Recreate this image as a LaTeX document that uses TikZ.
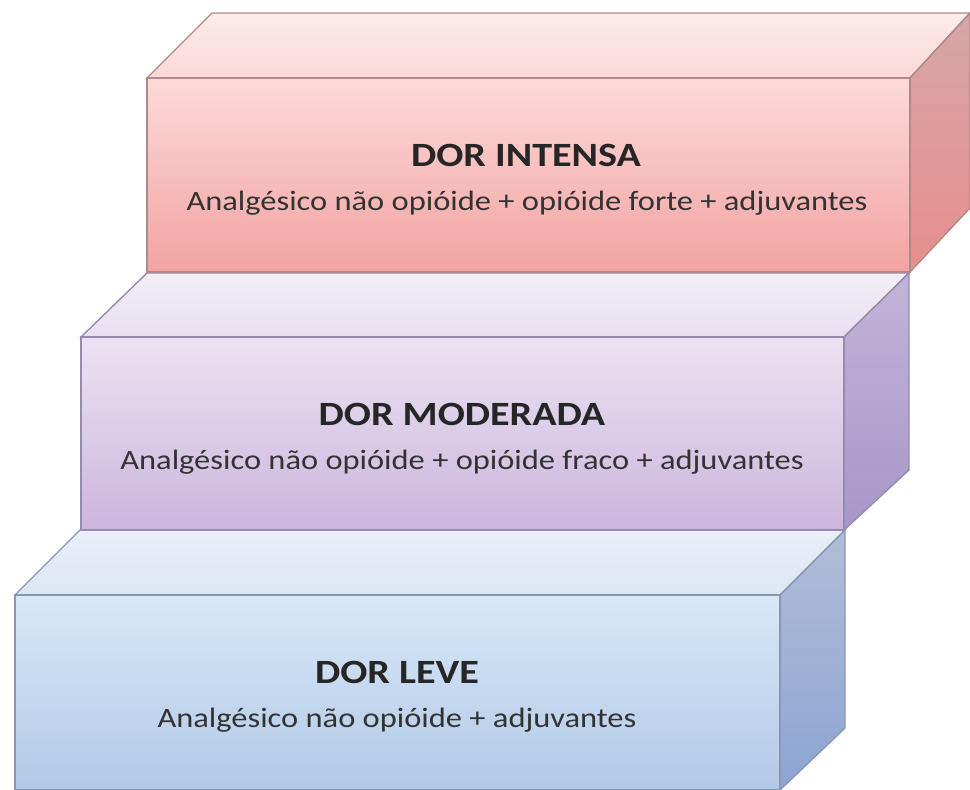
\documentclass[tikz,border=0pt]{standalone}
\usepackage{fontspec}
\setmainfont{Carlito}
\usepackage{tikz}
\usetikzlibrary{calc}

\definecolor{pinkfrontA}{HTML}{FCDAD9}
\definecolor{pinkfrontB}{HTML}{F2A3A2}
\definecolor{pinktopA}{HTML}{FDEBEA}
\definecolor{pinktopB}{HTML}{FBD8D8}
\definecolor{pinksideA}{HTML}{D6A6A6}
\definecolor{pinksideB}{HTML}{E88E8E}
\definecolor{pinkedge}{HTML}{B08888}
\definecolor{lilacfrontA}{HTML}{EBE3F2}
\definecolor{lilacfrontB}{HTML}{CBB5DD}
\definecolor{lilactopA}{HTML}{F2EDF6}
\definecolor{lilactopB}{HTML}{E8E0F0}
\definecolor{lilacsideA}{HTML}{C2B4D8}
\definecolor{lilacsideB}{HTML}{A896C8}
\definecolor{lilacedge}{HTML}{968AAE}
\definecolor{bluefrontA}{HTML}{D8E8F8}
\definecolor{bluefrontB}{HTML}{B2C8E6}
\definecolor{bluetopA}{HTML}{EAEFF8}
\definecolor{bluetopB}{HTML}{DDE6F4}
\definecolor{bluesideA}{HTML}{B2BDD6}
\definecolor{bluesideB}{HTML}{8CA4D4}
\definecolor{blueedge}{HTML}{8898B4}

\begin{document}
\begin{tikzpicture}[x=1pt, y=-1pt,
	title/.style={font=\bfseries\fontsize{34}{36}\selectfont, text=black!85, xscale=1.18, transform shape},
	subtitle/.style={font=\fontsize{28}{30}\selectfont, text=black!80, xscale=1.16, transform shape}]
	\useasboundingbox				(0,0) rectangle (970,790);
	% dor leve
	\shade[top color=bluetopA, bottom color=bluetopB, draw=blueedge, line width=1.4pt]		(15,595) -- (80,530) -- (845,530) -- (780,595) -- cycle;
	\shade[top color=bluesideA, bottom color=bluesideB, draw=blueedge, line width=1.4pt]		(780,595) -- (845,530) -- (845,728) -- (780,790) -- cycle;
	\shade[top color=bluefrontA, bottom color=bluefrontB, draw=blueedge, line width=1.4pt]	(15,595) rectangle (780,790);
	% dor moderada
	\shade[top color=lilactopA, bottom color=lilactopB, draw=lilacedge, line width=1.4pt]		(81,337) -- (147,273) -- (909,273) -- (844,337) -- cycle;
	\shade[top color=lilacsideA, bottom color=lilacsideB, draw=lilacedge, line width=1.4pt]	(844,337) -- (909,273) -- (909,470) -- (844,530) -- cycle;
	\shade[top color=lilacfrontA, bottom color=lilacfrontB, draw=lilacedge, line width=1.4pt]	(81,337) rectangle (844,530);
	% dor intensa
	\shade[top color=pinktopA, bottom color=pinktopB, draw=pinkedge, line width=1.4pt]		(147,78) -- (212,13) -- (970,13) -- (910,78) -- cycle;
	\shade[top color=pinksideA, bottom color=pinksideB, draw=pinkedge, line width=1.4pt]		(910,78) -- (970,13) -- (970,208) -- (910,272) -- cycle;
	\shade[top color=pinkfrontA, bottom color=pinkfrontB, draw=pinkedge, line width=1.4pt]	(147,78) rectangle (910,272);

	\node[title]	(intensa)	at (526,155)	{DOR INTENSA};
	\node[subtitle]	(intensasub)	at (527,203)	{Analgésico não opióide + opióide forte + adjuvantes};
	\node[title]	(moderada)	at (462,414)	{DOR MODERADA};
	\node[subtitle]	(moderadasub)	at (462,462)	{Analgésico não opióide + opióide fraco + adjuvantes};
	\node[title]	(leve)		at (397,672)	{DOR LEVE};
	\node[subtitle]	(levesub)	at (397,720)	{Analgésico não opióide + adjuvantes};
\end{tikzpicture}
\end{document}
